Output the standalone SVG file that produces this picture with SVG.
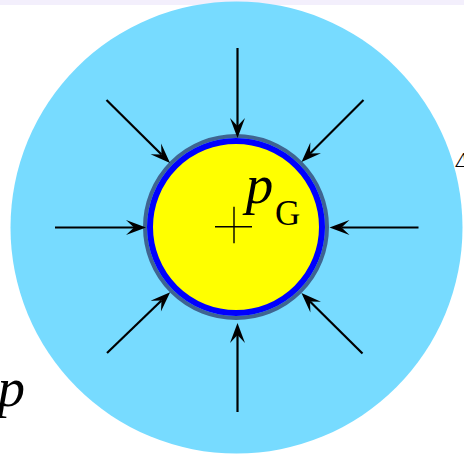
<svg xmlns="http://www.w3.org/2000/svg" width="464" height="457" viewBox="0 0 464 457">
  <style>
    .arrow { stroke: #000; stroke-width: 2.2; fill: none; marker-end: url(#head); }
    .it { font-family: "Liberation Serif", "Times New Roman", serif; font-style: italic; fill: #000; }
    .up { font-family: "Liberation Serif", "Times New Roman", serif; fill: #000; }
  </style>
  <defs>
    <marker id="head" markerUnits="userSpaceOnUse" markerWidth="40" markerHeight="40" refX="0" refY="0" orient="auto" overflow="visible">
      <path d="M12,0 L-8,-7.5 L0,0 L-8,7.5 Z" fill="#000"/>
    </marker>
  </defs>
  <rect x="0" y="0" width="464" height="457" fill="#ffffff"/>
  <rect x="0" y="0" width="464" height="5" fill="#f3effc"/>
  <g id="liquid">
    <circle cx="236.5" cy="227.5" r="226" fill="#77dbff"/>
  </g>
  <g id="bubble">
    <circle cx="236" cy="227" r="91" fill="none" stroke="#3f6491" stroke-width="4"/>
    <circle cx="236" cy="227" r="86" fill="#ffff00" stroke="#0000ff" stroke-width="6"/>
    <path d="M215,226.7 H252 M234,206.7 V243.3" stroke="#000" stroke-width="1.4" fill="none"/>
  </g>
  <g id="label-pG">
    <text class="it" x="245.8" y="203" font-size="55">p</text>
    <text class="up" x="275" y="225" font-size="35">G</text>
  </g>
  <g id="label-p">
    <text class="it" x="-2.6" y="406" font-size="55">p</text>
  </g>
  <g id="label-delta">
    <text class="it" x="456" y="167" font-size="21">Δ</text>
  </g>
  <g id="connectors">
    <line class="arrow" x1="237.5" y1="48" x2="237.5" y2="126"/>
    <line class="arrow" x1="237.5" y1="412" x2="237.5" y2="335"/>
    <line class="arrow" x1="55" y1="227.5" x2="134" y2="227.5"/>
    <line class="arrow" x1="418.5" y1="227.5" x2="341.5" y2="227.5"/>
    <line class="arrow" x1="106.5" y1="100" x2="161.5" y2="154.5"/>
    <line class="arrow" x1="363.5" y1="100" x2="310" y2="153.5"/>
    <line class="arrow" x1="362.5" y1="353.5" x2="310" y2="301.5"/>
    <line class="arrow" x1="107" y1="353" x2="161.5" y2="300.5"/>
  </g>
</svg>
